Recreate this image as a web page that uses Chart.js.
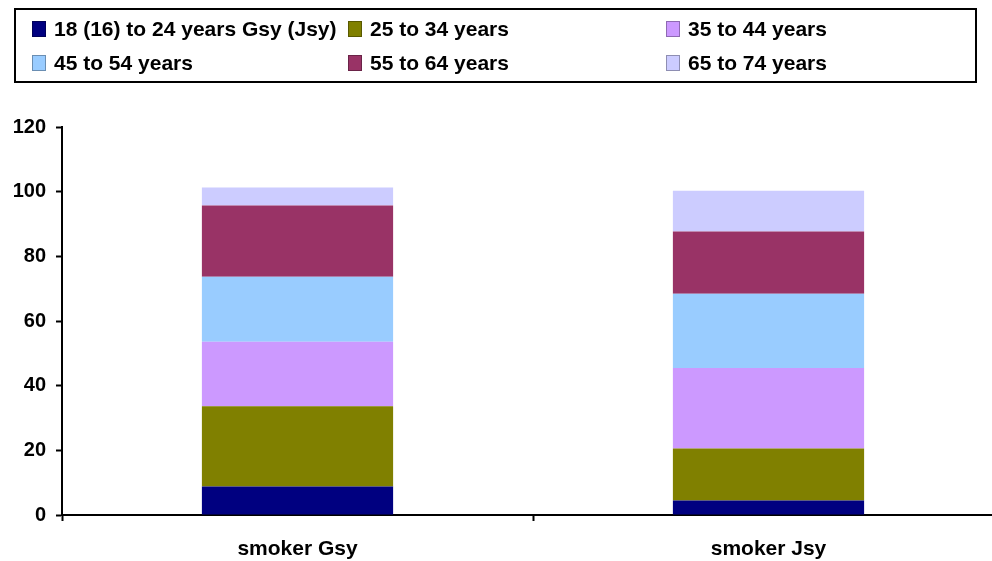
<!DOCTYPE html>
<html>
<head>
<meta charset="utf-8">
<title>Smokers by age group</title>
<script src="https://cdn.jsdelivr.net/npm/chart.js@4"></script>
<style>
  html, body { margin: 0; padding: 0; background: #fff; overflow: hidden; }
  #wrap { position: relative; width: 992px; height: 561px; overflow: hidden; }
  #chartBox { position: absolute; left: 0; top: 0; width: 1004px; height: 561px; }
  #legend {
    position: absolute; left: 14px; top: 8px; width: 959px; height: 71px;
    border: 2px solid #000; box-sizing: content-box;
    font: bold 21px "Liberation Sans", Arial, sans-serif; color: #000;
  }
  .item { position: absolute; height: 22px; line-height: 22px; white-space: nowrap; }
  .sw { position: absolute; left: 0; top: 3px; width: 14px; height: 16px; border: 1px solid rgba(0,0,0,0.3); box-sizing: border-box; }
  .item span.t { position: absolute; left: 22px; top: 0; }
</style>
</head>
<body>
<div id="wrap">
  <div id="chartBox"><canvas id="chart" width="1004" height="561"></canvas></div>
  <div id="legend"></div>
</div>
<script>
// categories and series (percent of smokers per age group)
var categories = ['smoker Gsy', 'smoker Jsy'];
var seriesNames = ['18 (16) to 24 years Gsy (Jsy)', '25 to 34 years', '35 to 44 years',
                   '45 to 54 years', '55 to 64 years', '65 to 74 years'];
var age18to24 = [8.8, 4.5];
var age25to34 = [24.8, 16.1];
var age35to44 = [20.0, 24.9];
var age45to54 = [20.1, 22.9];
var age55to64 = [22.0, 19.3];
var age65to74 = [5.6, 12.6];
var yTicks = [0, 20, 40, 60, 80, 100, 120];

var colors = ['#000080', '#808000', '#CC99FF', '#99CCFF', '#993366', '#CCCCFF'];
var seriesValues = [age18to24, age25to34, age35to44, age45to54, age55to64, age65to74];

var datasets = seriesNames.map(function(name, i) {
    return {
        label: name,
        data: seriesValues[i],
        backgroundColor: colors[i],
        borderWidth: 0,
        barPercentage: 0.406,
        categoryPercentage: 1
    };
});

var family = '"Liberation Sans", Arial, sans-serif';

new Chart(document.getElementById('chart'), {
    type: 'bar',
    data: { labels: categories, datasets: datasets },
    options: {
        responsive: false,
        animation: false,
        layout: { padding: { top: 127, right: 0, left: 0, bottom: 0 } },
        plugins: { legend: { display: false }, tooltip: { enabled: false } },
        scales: {
            x: {
                stacked: true,
                grid: { display: true, drawOnChartArea: false, tickLength: 6, tickColor: '#000', tickWidth: 2, offset: true },
                border: { color: '#000', width: 2 },
                ticks: { color: '#000', font: { family: family, size: 21, weight: 'bold' }, padding: 16, maxRotation: 0 },
                afterFit: function(scale) { scale.height = 46; }
            },
            y: {
                stacked: true,
                min: 0,
                max: 120,
                afterBuildTicks: function(scale) {
                    scale.ticks = yTicks.map(function(v) { return { value: v }; });
                },
                grid: { display: true, drawOnChartArea: false, tickLength: 6, tickColor: '#000', tickWidth: 2 },
                border: { color: '#000', width: 2 },
                ticks: { color: '#000', font: { family: family, size: 20, weight: 'bold' }, padding: 10 },
                afterFit: function(scale) { scale.width = 62; }
            }
        }
    }
});

// legend in three columns, two rows
var legend = document.getElementById('legend');
var colX = [16, 332, 650];
var rowY = [8, 42];
seriesNames.forEach(function(name, i) {
    var item = document.createElement('div');
    item.className = 'item';
    item.style.left = colX[i % 3] + 'px';
    item.style.top = rowY[Math.floor(i / 3)] + 'px';
    var sw = document.createElement('div');
    sw.className = 'sw';
    sw.style.background = colors[i];
    var t = document.createElement('span');
    t.className = 't';
    t.textContent = name;
    item.appendChild(sw);
    item.appendChild(t);
    legend.appendChild(item);
});
</script>
</body>
</html>
